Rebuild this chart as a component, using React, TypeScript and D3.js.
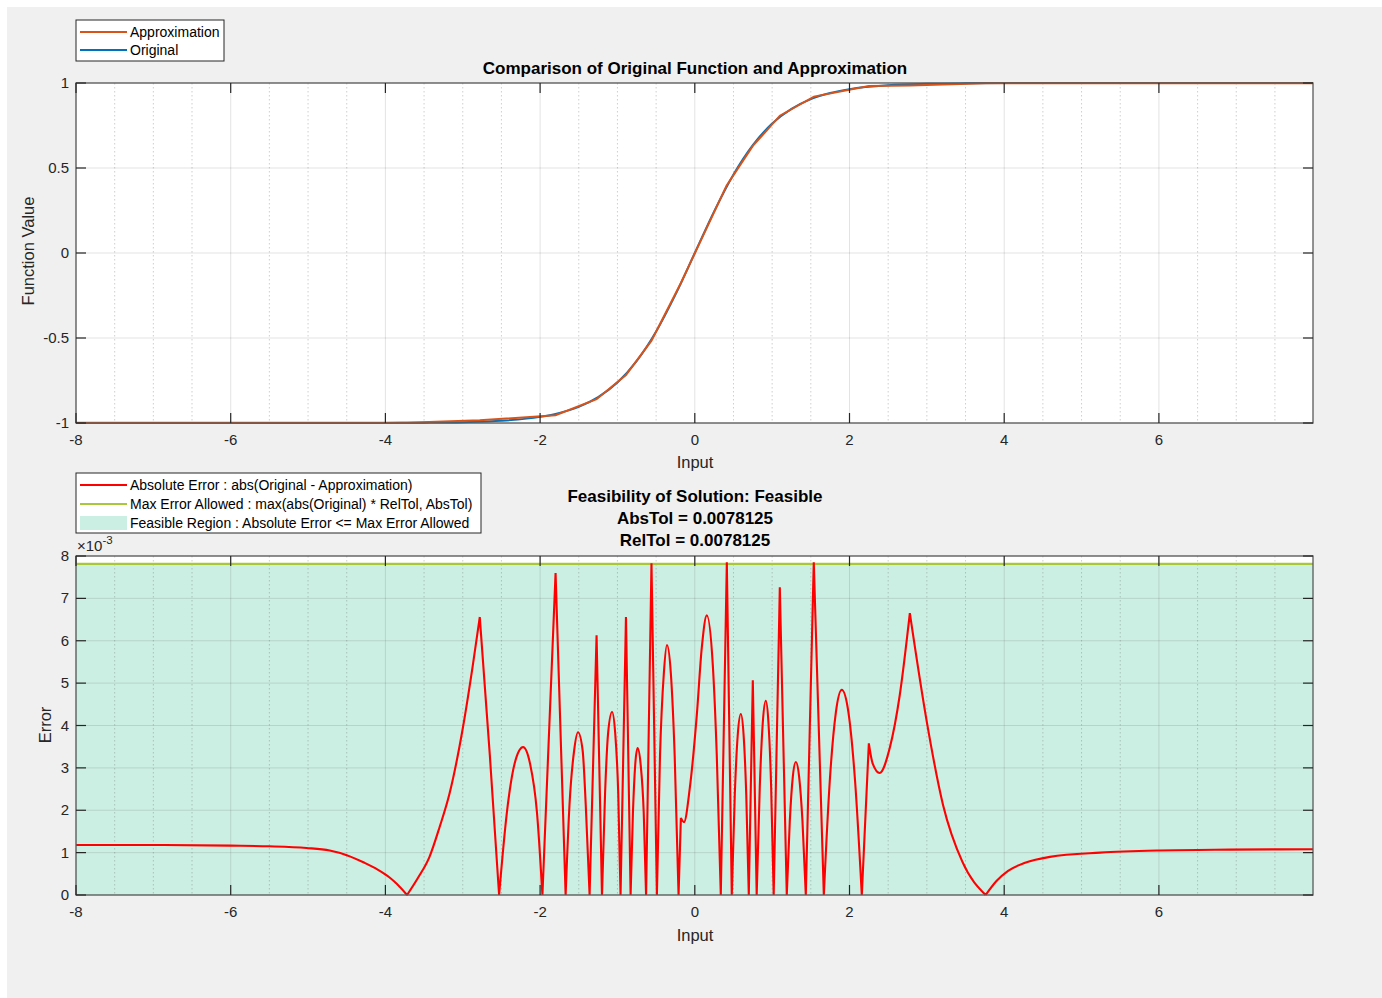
import React from 'react';
import * as d3 from 'd3';

// ---------- data ----------
const X_MIN = -8;
const X_MAX = 7.9921875;
const xTickValues = [-8, -6, -4, -2, 0, 2, 4, 6];
const xTickLabels = ['-8', '-6', '-4', '-2', '0', '2', '4', '6'];

const topYTicks = [-1, -0.5, 0, 0.5, 1];
const topYTickLabels = ['-1', '-0.5', '0', '0.5', '1'];

const botYTicks = [0, 1, 2, 3, 4, 5, 6, 7, 8];
const botYTickLabels = ['0', '1', '2', '3', '4', '5', '6', '7', '8'];

// Original function
const origX = [-8, -5, -4, -3.5, -3, -2.5, -2, -1.75, -1.5, -1.25, -1, -0.75, -0.5, -0.25, 0, 0.25, 0.5, 0.75, 1, 1.25, 1.5, 1.75, 2, 2.5, 3, 3.5, 4, 5, 7.9921875];
const origY = [-1, -0.9999, -0.9993, -0.998, -0.995, -0.987, -0.964, -0.941, -0.905, -0.848, -0.762, -0.635, -0.462, -0.245, 0, 0.245, 0.462, 0.635, 0.762, 0.848, 0.905, 0.941, 0.964, 0.987, 0.995, 0.998, 0.9993, 0.9999, 1];

// Approximation (piecewise linear)
const approxX = [-8, -3.72, -2.78, -1.80, -1.27, -0.89, -0.56, -0.18, 0.41, 0.75, 1.10, 1.54, 2.25, 2.78, 3.76, 7.9921875];
const approxY = [-0.9989, -0.9988, -0.9845, -0.9544, -0.8599, -0.7180, -0.5158, -0.1762, 0.3958, 0.6299, 0.8077, 0.9201, 0.9819, 0.9857, 0.9989, 0.9989];

// Absolute error (units of 1e-3)
const errX = [
  -8, -7, -6, -5.5, -5.02, -4.72, -4.5, -4.27, -4.1, -3.95, -3.85, -3.72,
  -3.58, -3.43, -3.30, -3.17, -3.0, -2.87, -2.78, -2.65, -2.53,
  -2.43, -2.33, -2.22, -2.13, -2.04, -1.97,
  -1.80, -1.67,
  -1.62, -1.56, -1.51, -1.45, -1.41, -1.36,
  -1.27, -1.20,
  -1.16, -1.12, -1.07, -1.03, -0.99, -0.96,
  -0.89, -0.83,
  -0.80, -0.77, -0.74, -0.70, -0.66, -0.63,
  -0.56, -0.49,
  -0.45, -0.40, -0.36, -0.31, -0.26, -0.21,
  -0.18, -0.14, -0.065, 0.026, 0.09, 0.155, 0.233, 0.284, 0.336,
  0.414, 0.478,
  0.517, 0.556, 0.595, 0.63, 0.665, 0.698,
  0.75, 0.80,
  0.84, 0.879, 0.918, 0.952, 0.987, 1.02,
  1.099, 1.189,
  1.228, 1.267, 1.306, 1.349, 1.392, 1.435,
  1.538, 1.668,
  1.745, 1.823, 1.90, 1.987, 2.072, 2.159,
  2.25, 2.30, 2.39, 2.52, 2.65, 2.78, 3.0, 3.21, 3.46, 3.76,
  3.9, 4.05, 4.27, 4.59, 5.24, 6.0, 6.92, 7.9921875,
];
const errY = [
  1.18, 1.18, 1.165, 1.15, 1.11, 1.05, 0.94, 0.76, 0.6, 0.42, 0.26, 0,
  0.4, 0.9, 1.6, 2.4, 3.93, 5.42, 6.56, 3.3, 0,
  1.94, 3.1, 3.49, 3.1, 1.94, 0,
  7.6, 0,
  2.13, 3.41, 3.84, 3.41, 2.13, 0,
  6.13, 0,
  2.4, 3.84, 4.32, 3.84, 2.4, 0,
  6.56, 0,
  1.93, 3.08, 3.47, 3.08, 1.93, 0,
  7.83, 0,
  3.28, 5.24, 5.9, 5.24, 3.28, 0,
  1.82, 1.72, 2.52, 4.25, 5.83, 6.6, 5.42, 3.3, 0,
  7.85, 0,
  2.37, 3.8, 4.27, 3.8, 2.37, 0,
  5.07, 0,
  2.55, 4.07, 4.58, 4.07, 2.55, 0,
  7.26, 0,
  1.74, 2.79, 3.14, 2.79, 1.74, 0,
  7.85, 0,
  2.69, 4.3, 4.84, 4.3, 2.69, 0,
  3.58, 3.1, 2.88, 3.47, 4.72, 6.65, 4.08, 2.12, 0.78, 0,
  0.33, 0.57, 0.76, 0.9, 1.0, 1.05, 1.07, 1.08,
];
// x positions where the error curve has a sharp corner (zeros, spikes, cusps)
const errCorners = [
  -3.72, -2.78, -2.53, -1.97, -1.80, -1.67, -1.36, -1.27, -1.20, -0.96, -0.89, -0.83,
  -0.63, -0.56, -0.49, -0.21, -0.18, 0.336, 0.414, 0.478, 0.698, 0.75, 0.80, 1.02,
  1.099, 1.189, 1.435, 1.538, 1.668, 2.159, 2.25, 2.78, 3.76,
];

const MAX_ERR = 7.8125; // units of 1e-3

// ---------- layout ----------
const FONT = '"Liberation Sans", Arial, Helvetica, sans-serif';
const TXT = '#262626';
const AX = { left: 76, right: 1313 };
const TOP = { top: 83, bottom: 423 };
const BOT = { top: 556, bottom: 895 };
const TICK = 10;

const BLUE = '#0072BD';
const ORANGE = '#D95319';
const RED = '#FF0000';
const GREEN = '#A8C83A';
const FILL = '#CCEFE3';

const minorX = d3.range(-7.5, 8, 0.5).filter((v) => Math.abs(v % 2) > 1e-9);

function Grid({ top, bottom, yScale, yTicks }: any) {
  const x = d3.scaleLinear().domain([X_MIN, X_MAX]).range([AX.left, AX.right]);
  return (
    <g>
      {minorX.map((v) => (
        <line key={'mn' + v} x1={x(v)} x2={x(v)} y1={top} y2={bottom} stroke="#262626" strokeOpacity={0.22} strokeDasharray="1.5,2.5" strokeWidth={1} />
      ))}
      {xTickValues.map((v) => (
        <line key={'gx' + v} x1={x(v)} x2={x(v)} y1={top} y2={bottom} stroke="#262626" strokeOpacity={0.13} strokeWidth={1} />
      ))}
      {yTicks.map((v: number) => (
        <line key={'gy' + v} x1={AX.left} x2={AX.right} y1={yScale(v)} y2={yScale(v)} stroke="#262626" strokeOpacity={0.13} strokeWidth={1} />
      ))}
    </g>
  );
}

function Frame({ top, bottom, yScale, yTicks, yLabels }: any) {
  const x = d3.scaleLinear().domain([X_MIN, X_MAX]).range([AX.left, AX.right]);
  return (
    <g>
      <rect x={AX.left} y={top} width={AX.right - AX.left} height={bottom - top} fill="none" stroke="#5a5a5a" strokeWidth={1.3} />
      {xTickValues.map((v, i) => (
        <g key={'xt' + v}>
          <line x1={x(v)} x2={x(v)} y1={bottom} y2={bottom - TICK} stroke="#262626" strokeWidth={1.2} />
          <line x1={x(v)} x2={x(v)} y1={top} y2={top + TICK} stroke="#262626" strokeWidth={1.2} />
          <text x={x(v)} y={bottom + 22} textAnchor="middle" fontSize={15} fill={TXT} fontFamily={FONT}>{xTickLabels[i]}</text>
        </g>
      ))}
      {yTicks.map((v: number, i: number) => (
        <g key={'yt' + v}>
          <line x1={AX.left} x2={AX.left + TICK} y1={yScale(v)} y2={yScale(v)} stroke="#262626" strokeWidth={1.2} />
          <line x1={AX.right} x2={AX.right - TICK} y1={yScale(v)} y2={yScale(v)} stroke="#262626" strokeWidth={1.2} />
          <text x={69} y={yScale(v) + 5} textAnchor="end" fontSize={15} fill={TXT} fontFamily={FONT}>{yLabels[i]}</text>
        </g>
      ))}
    </g>
  );
}

export default function App() {
  const x = d3.scaleLinear().domain([X_MIN, X_MAX]).range([AX.left, AX.right]);
  const yTop = d3.scaleLinear().domain([-1, 1]).range([TOP.bottom, TOP.top]);
  const yBot = d3.scaleLinear().domain([0, 8]).range([BOT.bottom, BOT.top]);

  const origLine = d3.line<number>().x((_, i) => x(origX[i])).y((d) => yTop(d)).curve(d3.curveMonotoneX)(origY) || '';
  const approxLine = d3.line<number>().x((_, i) => x(approxX[i])).y((d) => yTop(d))(approxY) || '';

  // split the error curve at its corners; smooth each piece
  const pts = errX.map((xv, i) => [xv, errY[i]] as [number, number]);
  const segments: [number, number][][] = [];
  let cur: [number, number][] = [];
  pts.forEach((p, i) => {
    cur.push(p);
    const isCorner = errCorners.some((c) => Math.abs(c - p[0]) < 1e-6);
    if (isCorner && i > 0 && i < pts.length - 1) {
      segments.push(cur);
      cur = [p];
    }
  });
  if (cur.length > 1) segments.push(cur);
  const segGen = d3.line<[number, number]>().x((d) => x(d[0])).y((d) => yBot(d[1])).curve(d3.curveMonotoneX);
  const errPath = segments.map((s) => segGen(s) || '').join('');

  const feasArea = d3.area<number>().x((d) => x(d)).y0(yBot(0)).y1(yBot(MAX_ERR))([X_MIN, X_MAX]) || '';

  return (
    <svg width={1382} height={998} style={{ position: 'absolute', left: 0, top: 0 }} fontFamily={FONT}>
      <rect x={0} y={0} width={1382} height={998} fill="#ffffff" />
      <rect x={7} y={7} width={1375} height={991} fill="#f0f0f0" />

      <defs>
        <clipPath id="clipTop"><rect x={AX.left} y={TOP.top - 2} width={AX.right - AX.left} height={TOP.bottom - TOP.top + 4} /></clipPath>
        <clipPath id="clipBot"><rect x={AX.left} y={BOT.top} width={AX.right - AX.left} height={BOT.bottom - BOT.top + 2} /></clipPath>
      </defs>

      {/* ---------- top axes ---------- */}
      <rect x={AX.left} y={TOP.top} width={AX.right - AX.left} height={TOP.bottom - TOP.top} fill="#ffffff" />
      <Grid top={TOP.top} bottom={TOP.bottom} yScale={yTop} yTicks={topYTicks} />
      <g clipPath="url(#clipTop)">
        <path d={origLine} fill="none" stroke={BLUE} strokeWidth={2} />
        <path d={approxLine} fill="none" stroke={ORANGE} strokeWidth={2} />
      </g>
      <Frame top={TOP.top} bottom={TOP.bottom} yScale={yTop} yTicks={topYTicks} yLabels={topYTickLabels} />
      <text x={695} y={74} textAnchor="middle" fontSize={17} fontWeight="bold" fill="#000">Comparison of Original Function and Approximation</text>
      <text x={695} y={468} textAnchor="middle" fontSize={16.5} fill={TXT}>Input</text>
      <text transform="translate(34,251) rotate(-90)" textAnchor="middle" fontSize={16.5} fill={TXT}>Function Value</text>

      {/* top legend */}
      <rect x={76} y={20} width={148} height={41} fill="#ffffff" stroke="#262626" strokeWidth={1} />
      <line x1={80} x2={127} y1={32} y2={32} stroke={ORANGE} strokeWidth={2} />
      <text x={130} y={36.5} fontSize={14} fill="#000">Approximation</text>
      <line x1={80} x2={127} y1={50} y2={50} stroke={BLUE} strokeWidth={2} />
      <text x={130} y={55} fontSize={14} fill="#000">Original</text>

      {/* ---------- bottom axes ---------- */}
      <rect x={AX.left} y={BOT.top} width={AX.right - AX.left} height={BOT.bottom - BOT.top} fill="#ffffff" />
      <path d={feasArea} fill={FILL} />
      <Grid top={BOT.top} bottom={BOT.bottom} yScale={yBot} yTicks={botYTicks} />
      <g clipPath="url(#clipBot)">
        <line x1={AX.left} x2={AX.right} y1={yBot(MAX_ERR)} y2={yBot(MAX_ERR)} stroke={GREEN} strokeWidth={2.2} />
        <path d={errPath} fill="none" stroke={RED} strokeWidth={2.1} strokeLinejoin="round" />
      </g>
      <Frame top={BOT.top} bottom={BOT.bottom} yScale={yBot} yTicks={botYTicks} yLabels={botYTickLabels} />
      <text x={77} y={551} fontSize={15} fill={TXT}>×10<tspan dy={-7} fontSize={11.5}>-3</tspan></text>
      <text x={695} y={502} textAnchor="middle" fontSize={17} fontWeight="bold" fill="#000">Feasibility of Solution: Feasible</text>
      <text x={695} y={524} textAnchor="middle" fontSize={17} fontWeight="bold" fill="#000">AbsTol = 0.0078125</text>
      <text x={695} y={546} textAnchor="middle" fontSize={17} fontWeight="bold" fill="#000">RelTol = 0.0078125</text>
      <text x={695} y={941} textAnchor="middle" fontSize={16.5} fill={TXT}>Input</text>
      <text transform="translate(51,725) rotate(-90)" textAnchor="middle" fontSize={16.5} fill={TXT}>Error</text>

      {/* bottom legend */}
      <rect x={76} y={473} width={405} height={60} fill="#ffffff" stroke="#262626" strokeWidth={1} />
      <line x1={80} x2={127} y1={485} y2={485} stroke={RED} strokeWidth={2} />
      <text x={130} y={489.5} fontSize={14} fill="#000">Absolute Error : abs(Original - Approximation)</text>
      <line x1={80} x2={127} y1={504} y2={504} stroke={GREEN} strokeWidth={2.2} />
      <text x={130} y={508.5} fontSize={14} fill="#000">Max Error Allowed : max(abs(Original) * RelTol, AbsTol)</text>
      <rect x={80} y={516} width={47} height={14} fill={FILL} />
      <text x={130} y={527.5} fontSize={14} fill="#000">Feasible Region : Absolute Error &lt;= Max Error Allowed</text>
    </svg>
  );
}
